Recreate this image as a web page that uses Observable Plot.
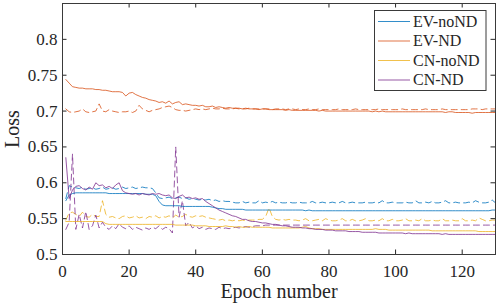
<!DOCTYPE html>
<html><head><meta charset="utf-8">
<script src="https://cdn.jsdelivr.net/npm/d3@7"></script>
<script src="https://cdn.jsdelivr.net/npm/@observablehq/plot@0.6"></script>
<style>body{margin:0;background:#fff}</style>
</head><body><div id="chart"></div>
<script>
const seriesNames = ["EV-noND", "EV-ND", "CN-noND", "CN-ND"];
const seriesColors = ["#0072BD", "#D95319", "#EDB120", "#7E2F8E"];
const xTicks = [0, 20, 40, 60, 80, 100, 120];
const xTickLabels = ["0", "20", "40", "60", "80", "100", "120"];
const yTicks = [0.5, 0.55, 0.6, 0.65, 0.7, 0.75, 0.8];
const yTickLabels = ["0.5", "0.55", "0.6", "0.65", "0.7", "0.75", "0.8"];
const xLabel = "Epoch number";
const yLabel = "Loss";

// solid = training, dashed = validation; one value per epoch 1..130
const evNoNdTrain = [
.575,.583,.585,.586,.586,.586,.586,.586,.586,.586,
.586,.586,.586,.585,.585,.585,.585,.585,.585,.585,
.585,.585,.585,.585,.584,.584,.584,.582,.574,.569,
.568,.568,.568,.568,.568,.567,.567,.567,.567,.567,
.567,.567,.567,.567,.566,.565,.564,.564,.563,.563,
.563,.563,.563,.563,.562,.562,.562,.562,.562,.562,
.562,.562,.562,.562,.562,.562,.562,.562,.562,.562,
.562,.562,.561,.562,.561,.561,.561,.561,.561,.561,
.561,.561,.561,.561,.561,.561,.561,.561,.561,.561,
.561,.561,.561,.561,.561,.561,.561,.561,.561,.561,
.561,.561,.561,.561,.561,.561,.561,.561,.561,.561,
.561,.561,.561,.561,.561,.561,.561,.561,.561,.561,
.561,.561,.561,.561,.561,.561,.561,.561,.562,.562];
const evNoNdVal = [
.578,.596,.594,.593,.592,.594,.591,.592,.593,.591,
.592,.594,.591,.592,.593,.591,.592,.594,.592,.593,
.594,.592,.593,.594,.593,.593,.592,.586,.579,.578,
.579,.580,.578,.579,.580,.578,.579,.577,.578,.577,
.576,.577,.576,.577,.575,.576,.574,.575,.574,.574,
.573,.572,.572,.574,.572,.573,.572,.572,.575,.572,
.573,.572,.574,.572,.573,.572,.572,.573,.572,.572,
.573,.572,.572,.572,.574,.572,.572,.573,.572,.572,
.573,.572,.572,.574,.572,.572,.573,.572,.572,.572,
.573,.572,.572,.573,.572,.575,.572,.572,.573,.572,
.572,.572,.573,.572,.572,.575,.572,.572,.573,.572,
.574,.572,.572,.573,.575,.572,.572,.573,.572,.572,
.572,.573,.572,.575,.573,.572,.572,.573,.576,.572];
const evNdTrain = [
.744,.739,.734,.733,.732,.732,.731,.731,.731,.730,
.730,.729,.729,.728,.727,.727,.727,.726,.721,.725,
.726,.723,.721,.719,.718,.716,.715,.714,.712,.713,
.711,.714,.710,.712,.713,.709,.710,.709,.708,.708,
.707,.708,.706,.706,.707,.705,.706,.705,.704,.705,
.704,.704,.704,.703,.704,.703,.703,.703,.702,.703,
.703,.702,.702,.702,.702,.702,.701,.702,.701,.701,
.701,.701,.701,.701,.701,.701,.700,.701,.700,.700,
.700,.700,.700,.700,.700,.700,.700,.700,.700,.700,
.700,.700,.699,.700,.699,.700,.699,.699,.699,.699,
.699,.699,.699,.699,.699,.699,.699,.699,.699,.699,
.699,.699,.699,.699,.698,.699,.699,.698,.698,.698,
.698,.698,.697,.698,.698,.698,.698,.698,.698,.698];
const evNdVal = [
.703,.699,.698,.699,.700,.703,.699,.698,.699,.700,
.710,.700,.699,.702,.700,.699,.698,.699,.699,.700,
.698,.700,.708,.703,.701,.699,.701,.702,.703,.705,
.706,.707,.705,.702,.701,.701,.700,.701,.702,.703,
.702,.703,.702,.703,.704,.703,.703,.704,.703,.703,
.703,.704,.703,.703,.703,.704,.703,.703,.703,.703,
.703,.703,.702,.703,.703,.703,.702,.703,.703,.702,
.703,.702,.702,.703,.702,.702,.703,.702,.702,.702,
.702,.702,.703,.702,.702,.702,.702,.703,.702,.702,
.702,.702,.702,.702,.703,.702,.702,.702,.702,.702,
.702,.703,.702,.702,.702,.702,.702,.702,.703,.702,
.702,.702,.702,.703,.702,.702,.702,.702,.702,.702,
.702,.702,.703,.703,.703,.702,.703,.703,.703,.703];
const cnNoNdTrain = [
.546,.546,.546,.546,.546,.546,.546,.546,.546,.546,
.546,.546,.543,.542,.542,.542,.542,.542,.542,.542,
.542,.542,.542,.542,.542,.542,.542,.542,.542,.542,
.542,.542,.542,.541,.541,.541,.541,.541,.541,.540,
.540,.540,.540,.539,.539,.539,.539,.539,.540,.539,
.539,.538,.539,.538,.538,.539,.538,.538,.538,.538,
.538,.538,.537,.537,.537,.537,.537,.537,.537,.537,
.537,.538,.539,.537,.536,.536,.536,.535,.535,.535,
.535,.535,.535,.535,.535,.535,.535,.535,.535,.535,
.535,.535,.535,.536,.535,.535,.535,.534,.534,.534,
.534,.534,.534,.534,.534,.534,.534,.534,.534,.534,
.533,.533,.533,.533,.533,.533,.533,.533,.533,.533,
.533,.533,.533,.533,.532,.532,.532,.532,.532,.532];
const cnNoNdVal = [
.548,.558,.559,.556,.553,.559,.553,.552,.556,.553,
.553,.575,.556,.552,.553,.551,.550,.553,.554,.551,
.552,.554,.551,.552,.550,.553,.552,.554,.551,.553,
.552,.554,.551,.555,.552,.553,.556,.553,.552,.554,
.553,.554,.552,.551,.550,.549,.548,.549,.547,.548,
.547,.548,.547,.548,.547,.548,.548,.548,.549,.549,
.553,.565,.553,.549,.548,.549,.548,.549,.548,.548,
.547,.548,.550,.547,.547,.548,.549,.547,.550,.548,
.547,.547,.548,.550,.547,.547,.549,.547,.547,.548,
.550,.547,.547,.548,.547,.550,.547,.547,.549,.547,
.547,.548,.550,.547,.547,.548,.547,.550,.547,.547,
.548,.547,.547,.550,.547,.547,.548,.547,.547,.550,
.547,.547,.548,.547,.551,.549,.547,.547,.548,.548];
const cnNdTrain = [
.635,.578,.590,.595,.596,.592,.590,.594,.591,.600,
.596,.597,.593,.595,.592,.597,.600,.589,.586,.585,
.584,.585,.583,.585,.584,.583,.585,.584,.585,.583,
.582,.583,.579,.578,.581,.583,.579,.580,.578,.579,
.577,.578,.574,.571,.568,.565,.562,.560,.558,.556,
.554,.553,.551,.549,.549,.547,.546,.546,.545,.544,
.544,.543,.542,.542,.541,.540,.540,.539,.538,.538,
.538,.537,.537,.536,.536,.535,.535,.535,.534,.534,
.534,.533,.533,.533,.533,.532,.532,.532,.532,.531,
.531,.531,.531,.531,.530,.530,.530,.530,.530,.530,
.530,.530,.529,.530,.529,.529,.529,.529,.529,.529,
.529,.529,.529,.528,.529,.528,.528,.528,.528,.528,
.528,.528,.528,.528,.528,.528,.528,.528,.528,.528];
const cnNdVal = [
.535,.545,.640,.535,.556,.537,.560,.535,.540,.555,
.537,.545,.538,.535,.540,.536,.543,.538,.536,.540,
.535,.538,.536,.534,.537,.535,.538,.536,.540,.535,
.538,.536,.530,.650,.552,.575,.540,.545,.537,.540,
.536,.538,.535,.537,.536,.535,.538,.536,.537,.536,
.537,.538,.537,.538,.539,.538,.539,.540,.540,.540,
.541,.541,.541,.541,.541,.541,.541,.541,.541,.541,
.541,.541,.541,.541,.541,.541,.541,.541,.541,.541,
.541,.541,.541,.541,.541,.541,.541,.541,.541,.541,
.541,.541,.541,.541,.541,.541,.541,.541,.541,.541,
.541,.541,.541,.541,.541,.541,.541,.541,.541,.541,
.541,.541,.541,.541,.541,.541,.541,.541,.541,.541,
.541,.541,.541,.541,.541,.541,.541,.541,.541,.541];

const trainRows = [], valRows = [];
function addSeries(target, name, vals) {
  vals.forEach((v, i) => target.push({epoch: i + 1, loss: v, name}));
}
addSeries(trainRows, "EV-noND", evNoNdTrain);
addSeries(trainRows, "EV-ND", evNdTrain);
addSeries(trainRows, "CN-noND", cnNoNdTrain);
addSeries(trainRows, "CN-ND", cnNdTrain);
addSeries(valRows, "EV-noND", evNoNdVal);
addSeries(valRows, "EV-ND", evNdVal);
addSeries(valRows, "CN-noND", cnNoNdVal);
addSeries(valRows, "CN-ND", cnNdVal);

const W = 498, H = 306, mL = 62, mR = 3, mT = 3, mB = 52;
const innerW = W - mL - mR, innerH = H - mT - mB;
const tickLen = 4.5;
const axisColor = "#262626";
const font = "Liberation Serif";

const chart = Plot.plot({
  width: W, height: H,
  marginLeft: mL, marginRight: mR, marginTop: mT, marginBottom: mB,
  style: {background: "white", color: axisColor},
  x: {domain: [0, 130]},
  y: {domain: [0.5, 0.85]},
  color: {domain: seriesNames, range: seriesColors},
  marks: [
    Plot.line(valRows, {x: "epoch", y: "loss", z: "name", stroke: "name", strokeWidth: 1, strokeDasharray: "6,4", strokeOpacity: 0.8}),
    Plot.line(trainRows, {x: "epoch", y: "loss", z: "name", stroke: "name", strokeWidth: 1, strokeOpacity: 0.8}),
    Plot.tickX(xTicks, {x: d => d, insetTop: innerH - tickLen, stroke: axisColor}),
    Plot.tickX(xTicks, {x: d => d, insetBottom: innerH - tickLen, stroke: axisColor}),
    Plot.tickY(yTicks, {y: d => d, insetRight: innerW - tickLen, stroke: axisColor}),
    Plot.tickY(yTicks, {y: d => d, insetLeft: innerW - tickLen, stroke: axisColor}),
    Plot.frame({stroke: "#3a3a3a", strokeWidth: 1}),
    Plot.axisX(xTicks, {anchor: "bottom", tickSize: 0, tickPadding: 10, fontSize: 17, label: null,
      fill: axisColor, tickFormat: d => xTickLabels[xTicks.indexOf(d)]}),
    Plot.axisY(yTicks, {anchor: "left", tickSize: 0, tickPadding: 5, fontSize: 17, label: null,
      fill: axisColor, tickFormat: d => yTickLabels[yTicks.indexOf(d)]}),
    Plot.text([xLabel], {text: d => d, frameAnchor: "bottom", textAnchor: "middle", lineAnchor: "middle",
      dy: 37.3, fontSize: 20, fill: axisColor}),
    Plot.text([yLabel], {text: d => d, frameAnchor: "left", textAnchor: "middle", lineAnchor: "middle",
      rotate: -90, dx: -50, fontSize: 20, fill: axisColor})
  ]
});

const svg = d3.select(chart);
// legend (MATLAB-style box, upper right)
const lg = svg.append("g").attr("font-size", 16).attr("fill", axisColor);
lg.append("rect").attr("x", 374.5).attr("y", 10.5).attr("width", 111.5).attr("height", 80)
  .attr("fill", "white").attr("stroke", "#3a3a3a").attr("stroke-width", 1);
seriesNames.forEach((name, i) => {
  const y = 21.5 + i * 19.5;
  lg.append("line").attr("x1", 378).attr("x2", 410).attr("y1", y).attr("y2", y)
    .attr("stroke", seriesColors[i]).attr("stroke-width", 1).attr("stroke-opacity", 0.8);
  lg.append("text").attr("x", 413).attr("y", y + 5.2).attr("text-anchor", "start").text(name);
});
svg.attr("font-family", font);
svg.selectAll("g").attr("font-family", font);
svg.selectAll("text").attr("font-family", font).style("font-family", font);

document.getElementById("chart").appendChild(chart);
</script>
</body></html>
